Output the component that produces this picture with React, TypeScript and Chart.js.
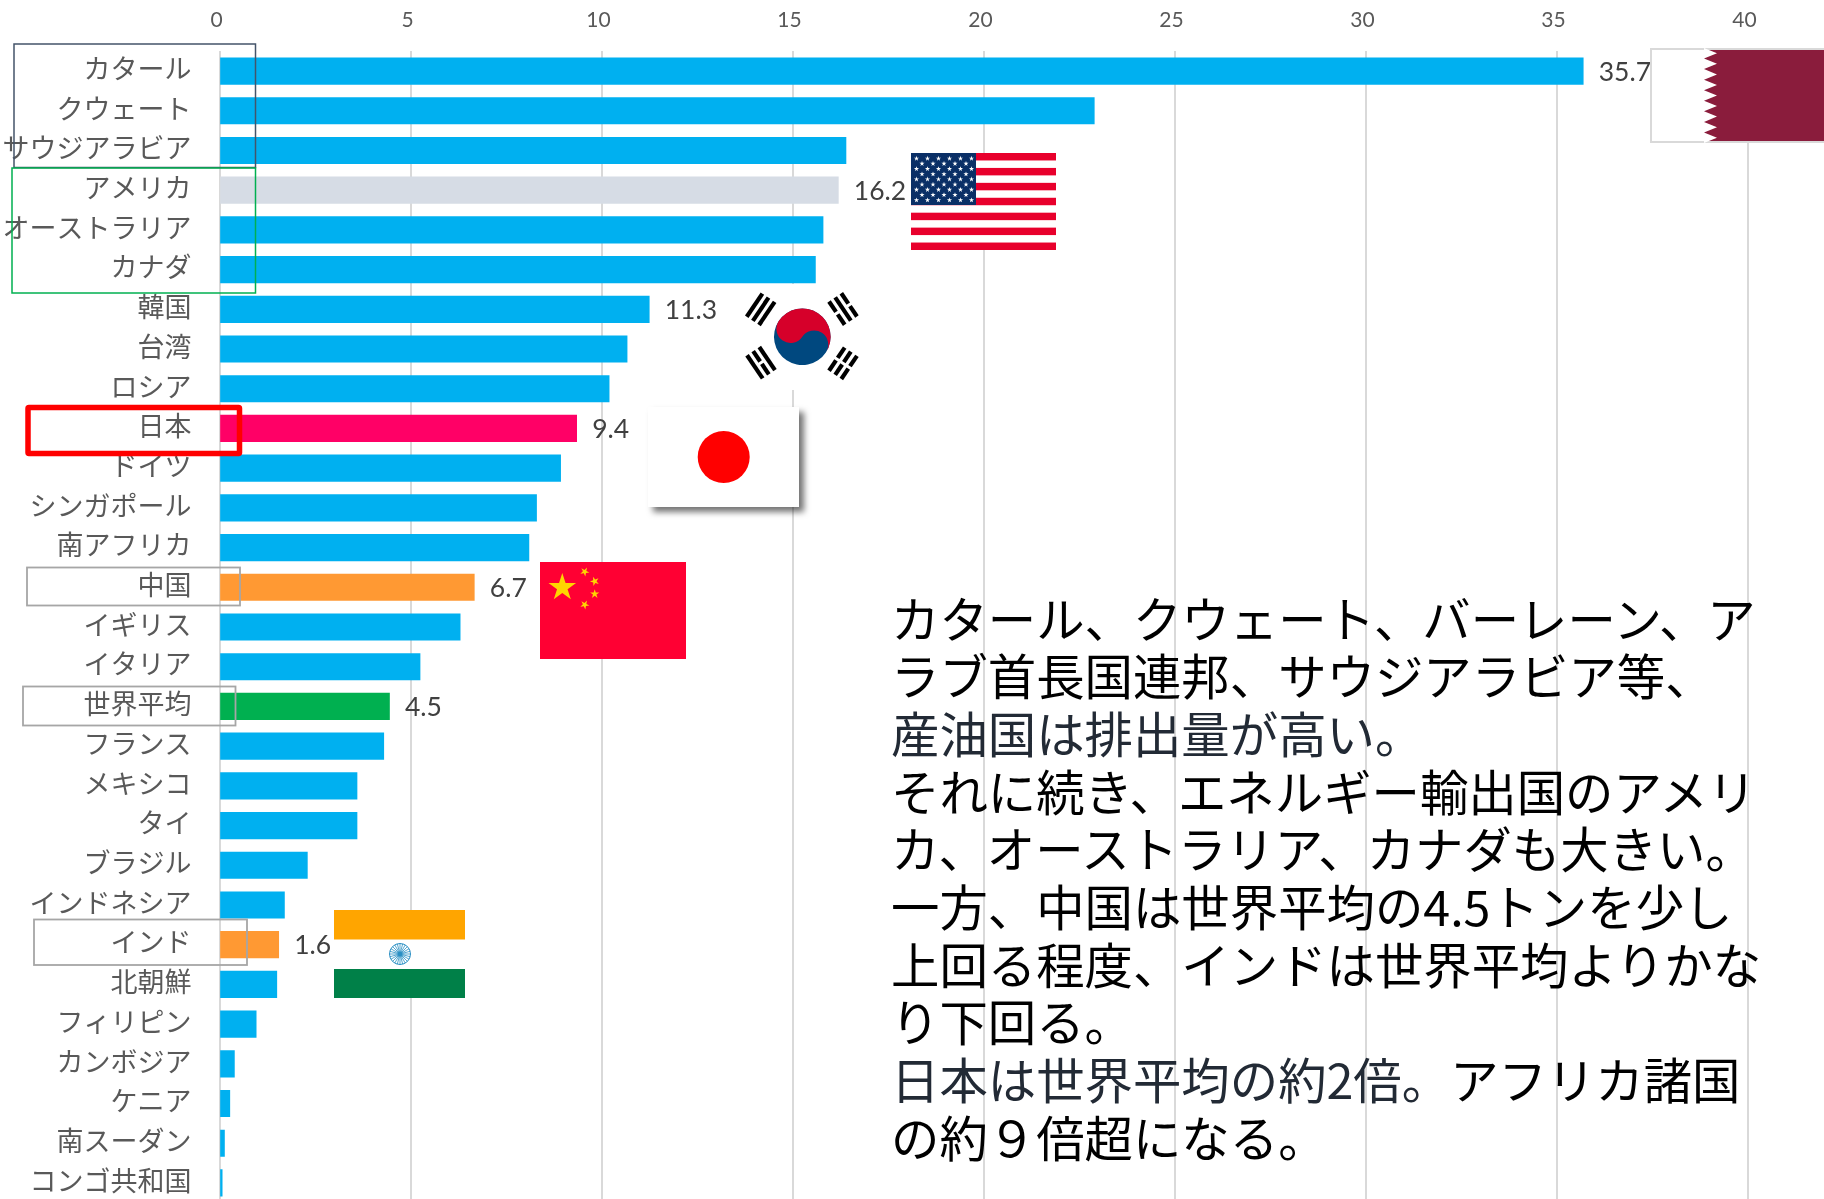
import React, { useEffect, useRef } from "react";
import { Chart, registerables } from "chart.js";

Chart.register(...registerables);

const categories = ["カタール","クウェート","サウジアラビア","アメリカ","オーストラリア","カナダ","韓国","台湾","ロシア","日本","ドイツ","シンガポール","南アフリカ","中国","イギリス","イタリア","世界平均","フランス","メキシコ","タイ","ブラジル","インドネシア","インド","北朝鮮","フィリピン","カンボジア","ケニア","南スーダン","コンゴ共和国"];
const values = [35.7,22.9,16.4,16.2,15.8,15.6,11.25,10.67,10.2,9.35,8.93,8.3,8.1,6.67,6.3,5.25,4.45,4.3,3.6,3.6,2.3,1.7,1.55,1.5,0.96,0.39,0.27,0.13,0.07];
const shownLabels: Record<string, string> = { "カタール":"35.7", "アメリカ":"16.2", "韓国":"11.3", "日本":"9.4", "中国":"6.7", "世界平均":"4.5", "インド":"1.6" };
const defaultColor = "#00b0f0";
const highlightColors: Record<string, string> = { "アメリカ":"#d6dce5", "日本":"#ff0066", "中国":"#ff9933", "インド":"#ff9933", "世界平均":"#00b050" };
const axisMax = 40;
const axisStep = 5;

const noteLines: { text: string; color: string }[][] = [
  [{ text: "カタール、クウェート、バーレーン、ア", color: "#000" }],
  [{ text: "ラブ首長国連邦、サウジアラビア等、", color: "#000" }],
  [{ text: "産油国は排出量が高い。", color: "#222a35" }],
  [{ text: "それに続き、エネルギー輸出国のアメリ", color: "#000" }],
  [{ text: "カ、オーストラリア、カナダも大きい。", color: "#000" }],
  [{ text: "一方、中国は世界平均の4.5トンを少し", color: "#000" }],
  [{ text: "上回る程度、インドは世界平均よりかな", color: "#000" }],
  [{ text: "り下回る。", color: "#000" }],
  [{ text: "日本は世界平均の約2倍。", color: "#222a35" }, { text: "アフリカ諸国", color: "#000" }],
  [{ text: "の約９倍超になる。", color: "#000" }],
];

const dataLabelPlugin = {
  id: "dataLabels",
  afterDatasetsDraw(chart: any) {
    const ctx = chart.ctx;
    const meta = chart.getDatasetMeta(0);
    ctx.save();
    ctx.font = '26.5px Lato';
    ctx.fillStyle = "#404040";
    ctx.textBaseline = "middle";
    ctx.textAlign = "left";
    categories.forEach((c, i) => {
      const t = shownLabels[c];
      if (!t) return;
      const el = meta.data[i];
      ctx.fillText(t, el.x + 15.5, el.y + 1);
    });
    ctx.restore();
  },
};

function starPoints(cx: number, cy: number, r: number, rot = 0) {
  const pts: string[] = [];
  for (let i = 0; i < 10; i++) {
    const rad = i % 2 === 0 ? r : r * 0.382;
    const a = -Math.PI / 2 + rot + (i * Math.PI) / 5;
    pts.push(`${(cx + rad * Math.cos(a)).toFixed(2)},${(cy + rad * Math.sin(a)).toFixed(2)}`);
  }
  return pts.join(" ");
}

function Trigram({ cx, cy, rot, pattern }: { cx: number; cy: number; rot: number; pattern: boolean[] }) {
  const len = 28, th = 4.2, sp = 7.4;
  return (
    <g transform={`translate(${cx} ${cy}) rotate(${rot})`} fill="#000">
      {pattern.map((broken, i) => {
        const y = (i - 1) * sp - th / 2;
        return broken ? (
          <g key={i}>
            <rect x={-len / 2} y={y} width={len / 2 - 1.5} height={th} />
            <rect x={1.5} y={y} width={len / 2 - 1.5} height={th} />
          </g>
        ) : (
          <rect key={i} x={-len / 2} y={y} width={len} height={th} />
        );
      })}
    </g>
  );
}

function Flags() {
  const qTeeth: string[] = [];
  const qT = 48, qB = 143, qn = 9, qh = (qB - qT) / qn;
  qTeeth.push(`1704,${qT}`);
  for (let i = 0; i < qn; i++) {
    qTeeth.push(`1717,${qT + qh * (i + 0.5)}`, `1704,${qT + qh * (i + 1)}`);
  }
  const usStripes = [];
  const usH = 97 / 13;
  for (let i = 0; i < 13; i += 2) usStripes.push(<rect key={i} x={911} y={153 + i * usH} width={145} height={usH} fill="#e8002c" />);
  const usStars = [];
  for (let row = 0; row < 9; row++) {
    const n = row % 2 === 0 ? 6 : 5;
    for (let c = 0; c < n; c++) {
      const x = 911 + 5.5 + (row % 2 === 0 ? c * 11 : 5.5 + c * 11);
      usStars.push(<polygon key={`${row}-${c}`} points={starPoints(x, 158.5 + row * 5.2, 2.7)} fill="#fff" />);
    }
  }
  const spokes = [];
  for (let i = 0; i < 24; i++) {
    const a = (i * Math.PI) / 12;
    spokes.push(<line key={i} x1={400} y1={954} x2={400 + 10.5 * Math.cos(a)} y2={954 + 10.5 * Math.sin(a)} stroke="#2a8fc4" strokeWidth={0.8} />);
  }
  const kr = 28.3;
  return (
    <svg width={1824} height={1199} style={{ position: "absolute", left: 0, top: 0 }}>
      <defs>
        <filter id="sh" x="-10%" y="-10%" width="130%" height="130%">
          <feDropShadow dx={5} dy={5} stdDeviation={3} floodColor="#000" floodOpacity={0.55} />
        </filter>
      </defs>

      {/* outline boxes */}
      <rect x={14} y={44} width={241.5} height={123.5} fill="none" stroke="#44546a" strokeWidth={1.5} />
      <rect x={12} y={168} width={243.5} height={125} fill="none" stroke="#00b050" strokeWidth={1.5} />
      <rect x={28} y={407.5} width={211.5} height={46} fill="none" stroke="#ff0000" strokeWidth={5.5} rx={1} />
      <rect x={27} y={567.5} width={213} height={38} fill="none" stroke="#a6a6a6" strokeWidth={1.8} />
      <rect x={23} y={686.5} width={212.5} height={39} fill="none" stroke="#a6a6a6" strokeWidth={1.8} />
      <rect x={34} y={919.5} width={213} height={45.5} fill="none" stroke="#a6a6a6" strokeWidth={1.8} />

      {/* Qatar */}
      <rect x={1651} y={49} width={200} height={93} fill="#fff" stroke="#d9d9d9" strokeWidth={2} />
      <rect x={1704} y={50} width={130} height={91} fill="#8a1c3c" />
      <polygon points={qTeeth.join(" ")} fill="#fff" />

      {/* USA */}
      <rect x={911} y={153} width={145} height={97} fill="#fff" />
      {usStripes}
      <rect x={911} y={153} width={65} height={52} fill="#0a2f66" />
      {usStars}

      {/* Korea */}
      <rect x={726} y={284} width={156} height={106} fill="#fff" />
      <g transform={`translate(802.3 336.7) rotate(33.7)`}>
        <circle r={kr} fill="#00487f" />
        <path d={`M ${-kr} 0 A ${kr} ${kr} 0 0 1 ${kr} 0 A ${kr / 2} ${kr / 2} 0 0 0 0 0 A ${kr / 2} ${kr / 2} 0 0 1 ${-kr} 0 Z`} fill="#d6002a" />
      </g>
      <Trigram cx={760.7} cy={309.3} rot={-56} pattern={[false, false, false]} />
      <Trigram cx={843} cy={309} rot={56} pattern={[true, false, true]} />
      <Trigram cx={761} cy={362.7} rot={56} pattern={[false, true, false]} />
      <Trigram cx={843} cy={363.3} rot={-56} pattern={[true, true, true]} />

      {/* Japan */}
      <rect x={648} y={407} width={151} height={100} fill="#fff" filter="url(#sh)" />
      <circle cx={723.7} cy={457} r={26} fill="#ff0000" />

      {/* China */}
      <rect x={540} y={562} width={146} height={97} fill="#ff0033" />
      <polygon points={starPoints(562.3, 587.5, 14.5)} fill="#ffd500" />
      <polygon points={starPoints(584.7, 571.7, 4.8, 0.5)} fill="#ffd500" />
      <polygon points={starPoints(594.7, 581.3, 4.8, 0.9)} fill="#ffd500" />
      <polygon points={starPoints(594.7, 594, 4.8, 0)} fill="#ffd500" />
      <polygon points={starPoints(584.7, 604.7, 4.8, 0.5)} fill="#ffd500" />

      {/* India */}
      <rect x={334} y={910} width={131} height={88} fill="#fff" />
      <rect x={334} y={910} width={131} height={29.5} fill="#ffa500" />
      <rect x={334} y={969} width={131} height={29} fill="#008048" />
      <circle cx={400} cy={954} r={10.5} fill="#fff" stroke="#2a8fc4" strokeWidth={1} />
      {spokes}
      <circle cx={400} cy={954} r={2.2} fill="#2a8fc4" />
    </svg>
  );
}

export default function App() {
  const ref = useRef<HTMLCanvasElement>(null);
  useEffect(() => {
    document.body.style.margin = "0";
    const chart = new Chart(ref.current!, {
      type: "bar",
      data: {
        labels: categories,
        datasets: [{
          data: values,
          backgroundColor: categories.map((c) => highlightColors[c] ?? defaultColor),
          barThickness: 26.5,
          borderWidth: 0,
        }],
      },
      options: {
        indexAxis: "y",
        responsive: false,
        animation: false,
        layout: { padding: { left: 0, top: 0, bottom: 0.5, right: 76.5 } },
        plugins: { legend: { display: false }, tooltip: { enabled: false }, title: { display: false } },
        scales: {
          x: {
            position: "top",
            min: 0,
            max: axisMax,
            afterFit: (s: any) => { s.height = 51.2; },
            border: { display: false },
            grid: { color: "#d9d9d9", lineWidth: 2, drawTicks: false },
            ticks: {
              stepSize: axisStep,
              font: { family: "Lato", size: 21 },
              color: "#595959",
              padding: 18,
              labelOffset: -3,
              maxRotation: 0,
            },
          },
          y: {
            afterFit: (s: any) => { s.width = 219.5; },
            border: { display: false },
            grid: { display: false, drawTicks: false },
            ticks: {
              autoSkip: false,
              font: { family: "'Noto Sans CJK JP'", size: 27 },
              color: "#595959",
              padding: 28,
              labelOffset: -2.5,
            },
          },
        },
      } as any,
      plugins: [dataLabelPlugin],
    });
    return () => chart.destroy();
  }, []);

  return (
    <div style={{ position: "absolute", left: 0, top: 0, width: 1824, height: 1199, overflow: "hidden", background: "#fff" }}>
      <canvas ref={ref} width={1824} height={1247} style={{ display: "block", width: 1824, height: 1247 }} />
      <Flags />
      {noteLines.map((segs, i) => (
        <div key={i} style={{
          position: "absolute", left: 891, top: 616.5 + i * 57.7 - 30, lineHeight: "60px", height: 60,
          fontFamily: "'Noto Sans CJK JP'", fontSize: 48.4, fontWeight: 400, whiteSpace: "nowrap",
        }}>
          {segs.map((s, j) => <span key={j} style={{ color: s.color }}>{s.text}</span>)}
        </div>
      ))}
    </div>
  );
}
